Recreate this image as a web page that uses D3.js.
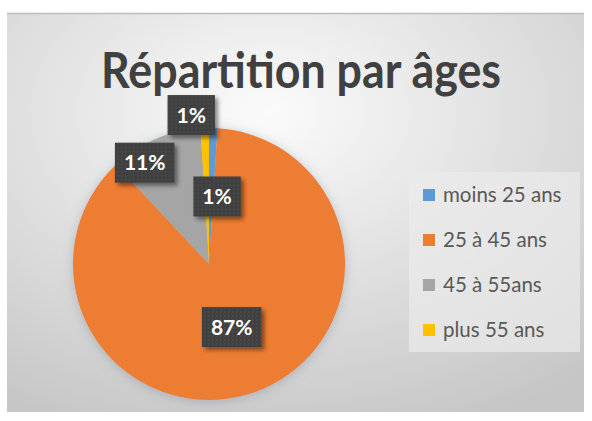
<!DOCTYPE html>
<html>
<head>
<meta charset="utf-8">
<script src="https://cdn.jsdelivr.net/npm/d3@7"></script>
<style>
  body { margin: 0; background: #fff; }
  svg { display: block; font-family: Lato, "Open Sans", sans-serif; }
</style>
</head>
<body>
<div id="chart"></div>
<script>
// data
const categories = ["moins 25 ans", "25 à 45 ans", "45 à 55ans", "plus 55 ans"];
const values = [1, 87, 11, 1];
const colorList = ["#5B9BD5", "#ED7D31", "#A5A5A5", "#FFC000"];
const title = "Répartition par âges";

const width = 592, height = 421;
const frame = { x: 7, y: 13, w: 577, h: 399 };
const center = [209, 264], radius = 136;

// where excel put each label (radius from centre, angle shift in degrees)
const labelPlace = {
  "moins 25 ans": { r: 68, shift: 5 },
  "25 à 45 ans": { r: 67, shift: 0 },
  "45 à 55ans": { r: 120, shift: -9 },
  "plus 55 ans": { r: 150, shift: -5 },
};

const svg = d3.select("#chart").append("svg")
  .attr("width", width).attr("height", height);

const defs = svg.append("defs");
const grad = defs.append("radialGradient").attr("id", "bg")
  .attr("cx", "45%").attr("cy", "25%").attr("r", "85%");
grad.append("stop").attr("offset", "0%").attr("stop-color", "#fbfbfb");
grad.append("stop").attr("offset", "100%").attr("stop-color", "#c6c6c6");

const pieShadow = defs.append("filter").attr("id", "pieShadow")
  .attr("x", "-20%").attr("y", "-20%").attr("width", "140%").attr("height", "140%");
pieShadow.append("feDropShadow").attr("dx", 0).attr("dy", 2)
  .attr("stdDeviation", 6).attr("flood-color", "#7f8a94").attr("flood-opacity", 0.45);

const boxShadow = defs.append("filter").attr("id", "boxShadow")
  .attr("x", "-30%").attr("y", "-30%").attr("width", "160%").attr("height", "160%");
boxShadow.append("feDropShadow").attr("dx", 3).attr("dy", 3)
  .attr("stdDeviation", 2).attr("flood-color", "#000").attr("flood-opacity", 0.45);

const dots = defs.append("pattern").attr("id", "dots")
  .attr("width", 4).attr("height", 4).attr("patternUnits", "userSpaceOnUse");
dots.append("rect").attr("width", 4).attr("height", 4).attr("fill", "#3f3f3f");
dots.append("circle").attr("cx", 1).attr("cy", 1).attr("r", 0.7).attr("fill", "#575c60");

// chart area
svg.append("rect")
  .attr("x", frame.x).attr("y", frame.y)
  .attr("width", frame.w).attr("height", frame.h)
  .attr("fill", "url(#bg)");
svg.append("line")
  .attr("x1", frame.x).attr("x2", frame.x + frame.w)
  .attr("y1", frame.y + 0.5).attr("y2", frame.y + 0.5)
  .attr("stroke", "#bdbdbd").attr("stroke-width", 1.5);

svg.append("text")
  .attr("x", 301).attr("y", 88)
  .attr("text-anchor", "middle")
  .attr("font-size", 49).attr("font-weight", 700)
  .attr("fill", "#404040")
  .attr("textLength", 400).attr("lengthAdjust", "spacingAndGlyphs")
  .text(title);

const color = d3.scaleOrdinal(categories, colorList);
const pie = d3.pie().sort(null).value((d) => d.value);
const arcs = pie(categories.map((c, i) => ({ name: c, value: values[i] })));
const arc = d3.arc().innerRadius(0).outerRadius(radius);
const total = d3.sum(values);

const g = svg.append("g").attr("transform", `translate(${center})`);
g.append("g").attr("filter", "url(#pieShadow)")
  .selectAll("path").data(arcs).join("path")
  .attr("d", arc)
  .attr("fill", (d) => color(d.data.name));

// labels
const labels = g.selectAll("g.label").data(arcs).join("g")
  .attr("class", "label")
  .attr("transform", (d) => {
    const p = labelPlace[d.data.name];
    const a = (d.startAngle + d.endAngle) / 2 + (p.shift * Math.PI) / 180;
    return `translate(${p.r * Math.sin(a)},${-p.r * Math.cos(a)})`;
  });

labels.each(function (d) {
  const sel = d3.select(this);
  const rect = sel.append("rect").attr("fill", "url(#dots)").attr("filter", "url(#boxShadow)");
  const t = sel.append("text")
    .attr("text-anchor", "middle").attr("dy", "0.36em")
    .attr("font-size", 21).attr("font-weight", 700)
    .attr("fill", "#fff")
    .text(d3.format(".0%")(d.data.value / total));
  const b = t.node().getBBox();
  const w = b.width + 18, h = 40;
  rect.attr("x", -w / 2).attr("y", -h / 2).attr("width", w).attr("height", h);
});

// legend
const legend = svg.append("g");
legend.append("rect")
  .attr("x", 409).attr("y", 172).attr("width", 171).attr("height", 180)
  .attr("fill", "#ebebeb").attr("opacity", 0.7);
const ly = d3.scalePoint(categories, [195, 330]);
const items = legend.selectAll("g.item").data(categories).join("g")
  .attr("class", "item")
  .attr("transform", (d) => `translate(423,${ly(d)})`);
items.append("rect")
  .attr("x", 0).attr("y", -6).attr("width", 12).attr("height", 12)
  .attr("fill", (d) => color(d));
items.append("text")
  .attr("x", 20).attr("dy", "0.36em")
  .attr("font-size", 20.5).attr("fill", "#595959")
  .text((d) => d);
</script>
</body>
</html>
